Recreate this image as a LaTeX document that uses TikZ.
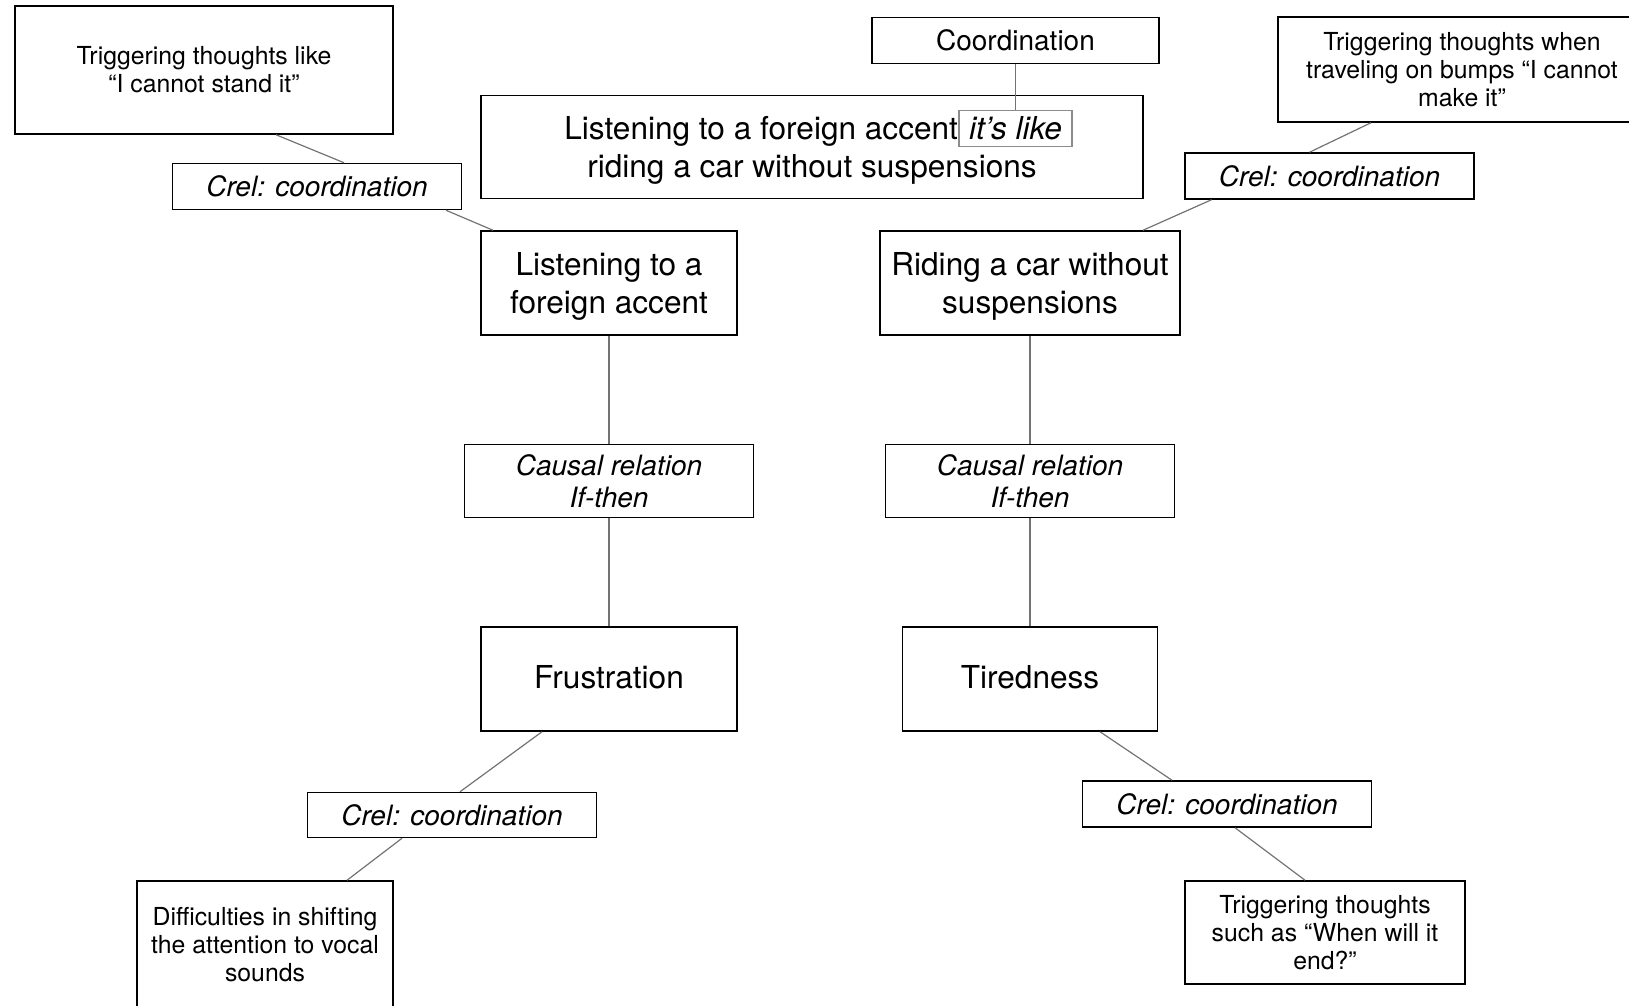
\documentclass[tikz,border=0pt]{standalone}
\usepackage{fontspec}
\setmainfont{TeX Gyre Heros}
\usetikzlibrary{positioning}
\newcommand{\conceptsize}{\fontsize{15.8}{18.7}\selectfont}
\newcommand{\relsize}{\fontsize{14}{16.1}\selectfont}
\newcommand{\notesize}{\fontsize{12.4}{14}\selectfont}
\tikzstyle{map}=[
    x=0.5pt, y=-0.5pt, node distance=54pt,
    every edge/.style={draw=black!55, line width=0.6pt},
]
\tikzstyle{concept}=[draw, line width=0.75pt, align=center, inner sep=2pt, font=\conceptsize]
\tikzstyle{relation}=[draw, line width=0.75pt, align=center, inner sep=2pt, font=\relsize\itshape,
    minimum width=144.5pt, minimum height=23pt]
\tikzstyle{note}=[draw, line width=0.75pt, align=center, inner sep=2pt, font=\notesize]
\tikzstyle{likebox}=[draw=black!45, line width=0.6pt, inner sep=0pt, font=\conceptsize\itshape,
    minimum width=56.5pt, minimum height=18pt]
\tikzstyle{plain}=[inner sep=0pt, font=\conceptsize]

\begin{document}
\begin{tikzpicture}[map]
        \useasboundingbox (0,0) rectangle (1629,1006);
        \clip (0,0) rectangle (1629,1006);

        \node[note, minimum width=189pt, minimum height=64pt] (stand) at (204,70) {Triggering thoughts like\\“I cannot stand it”};
        \node[relation] (crelstand) at (317,186.5) {Crel: coordination};
        \node[concept, minimum width=331pt, minimum height=51.5pt] (metaphor) at (812,147) {};
        \node[likebox] (like) at (1015.5,128.3) {it’s like};
        \node[plain, anchor=base east] (metaphorA) at (like.base west) {Listening to a foreign accent};
        \node[plain, anchor=base] (metaphorB) at (812,177.5) {riding a car without suspensions};
        \node[concept, font=\relsize, minimum width=143.5pt, minimum height=23pt] (coord) at (1015.5,40.5) {Coordination};
        \node[note, minimum width=184pt, minimum height=52.5pt] (make) at (1462,69.5) {Triggering thoughts when\\traveling on bumps “I cannot\\make it”};
        \node[relation] (crelmake) at (1329.5,176) {Crel: coordination};

        \node[concept, text depth=-0.9pt, minimum width=128pt, minimum height=52pt] (accent) at (609,283) {Listening to a\\foreign accent};
        \node[relation, minimum height=36.5pt, below=of accent] (causalaccent) {Causal relation\\If-then};
        \node[concept, text depth=2pt, minimum width=128pt, minimum height=52pt, below=of causalaccent] (frust) {Frustration};
        \node[relation, minimum height=22.5pt] (crelfrust) at (452,815) {Crel: coordination};
        \node[note, minimum width=128pt, minimum height=64pt] (vocal) at (265,945) {Difficulties in shifting\\the attention to vocal\\sounds};

        \node[concept, text depth=-0.9pt, minimum width=150pt, minimum height=52pt] (riding) at (1030,283) {Riding a car without\\suspensions};
        \node[relation, minimum height=36.5pt, below=of riding] (causalriding) {Causal relation\\If-then};
        \node[concept, text depth=2pt, minimum width=127.5pt, minimum height=52pt, below=of causalriding] (tired) {Tiredness};
        \node[relation] (creltired) at (1227,804) {Crel: coordination};
        \node[note, minimum width=140pt, minimum height=51.5pt] (whenend) at (1325,932.5) {Triggering thoughts\\such as “When will it\\end?”};

        \path
            ([xshift=36pt]stand.south) edge ([xshift=13.5pt]crelstand.north)
            ([xshift=64.5pt]crelstand.south) edge ([xshift=-58pt]accent.north)
            (coord) edge (like)
            ([xshift=-45.5pt]make.south) edge ([xshift=-10pt]crelmake.north)
            ([xshift=-59pt]crelmake.south) edge ([xshift=56.5pt]riding.north)
            (accent) edge (causalaccent)
            (causalaccent) edge (frust)
            (riding) edge (causalriding)
            (causalriding) edge (tired)
            ([xshift=-33.5pt]frust.south) edge ([xshift=4pt]crelfrust.north)
            ([xshift=-25pt]crelfrust.south) edge ([xshift=41pt]vocal.north)
            ([xshift=35pt]tired.south) edge ([xshift=-27.5pt]creltired.north)
            ([xshift=4pt]creltired.south) edge ([xshift=-10pt]whenend.north)
        ;
    \end{tikzpicture}
\end{document}
